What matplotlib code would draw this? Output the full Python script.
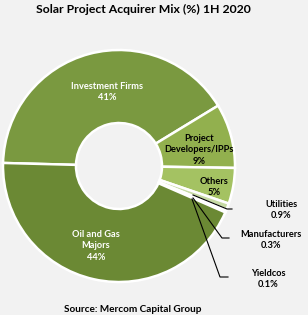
import matplotlib
matplotlib.use("Agg")
import matplotlib.pyplot as plt

categories = ["Investment Firms", "Project\nDevelopers/IPPs", "Others", "Utilities",
              "Manufacturers", "Yieldcos", "Oil and Gas\nMajors"]
values = [41, 9, 5, 0.9, 0.3, 0.1, 44]
pct_labels = ["41%", "9%", "5%", "0.9%", "0.3%", "0.1%", "44%"]
colors = ["#7a9940", "#92b04e", "#a4c262", "#c6daa4", "#d3e3b8", "#e2edd0", "#6b8934"]

plt.rcParams['font.family'] = ['Lato', 'DejaVu Sans']
BG = "#f2f2f2"
H = 315
fig = plt.figure(figsize=(3.08, 3.15), dpi=100, facecolor=BG)
ax = fig.add_axes([0, 0, 1, 1])
ax.set_facecolor(BG)

cx, cy, R, r = 119, H - 166, 116, 43
ax.pie(values, colors=colors, startangle=178.5, counterclock=False,
       center=(cx, cy), radius=R, frame=True,
       wedgeprops=dict(width=R - r, edgecolor="white", linewidth=1.8))
ax.set_xlim(0, 308)
ax.set_ylim(0, H)
ax.set_aspect('equal')
ax.axis('off')

def P(y):
    return H - y

fs = 6.7
txt = dict(ha='center', va='center', fontsize=fs, fontweight='bold', linespacing=1.3)
ax.text(107, P(92), categories[0] + "\n" + pct_labels[0], color='white', **txt)
ax.text(199, P(150), categories[1] + "\n" + pct_labels[1], color='black', **txt)
ax.text(214, P(187), categories[2] + "\n" + pct_labels[2], color='black', **txt)
ax.text(281, P(210), categories[3] + "\n" + pct_labels[3], color='black', **txt)
ax.text(271, P(240), categories[4] + "\n" + pct_labels[4], color='black', **txt)
ax.text(268, P(279), categories[5] + "\n" + pct_labels[5], color='black', **txt)
ax.text(96, P(246), categories[6] + "\n" + pct_labels[6], color='white', **txt)

# leader lines
lines = [
    [(193, 195), (227, 209), (232, 209)],
    [(193, 198), (222, 238), (229, 238)],
    [(192, 199), (220, 277), (228, 277)],
]
for pts in lines:
    ax.plot([p[0] for p in pts], [P(p[1]) for p in pts], color='black', lw=0.8)

ax.text(143, P(9), "Solar Project Acquirer Mix (%) 1H 2020", ha='center', va='center',
        fontsize=8.8, fontweight='bold', color='black')
ax.text(133, P(309), "Source: Mercom Capital Group", ha='center', va='center',
        fontsize=7.2, fontweight='bold', color='black')

fig.savefig("out.png", dpi=100, facecolor=BG)
